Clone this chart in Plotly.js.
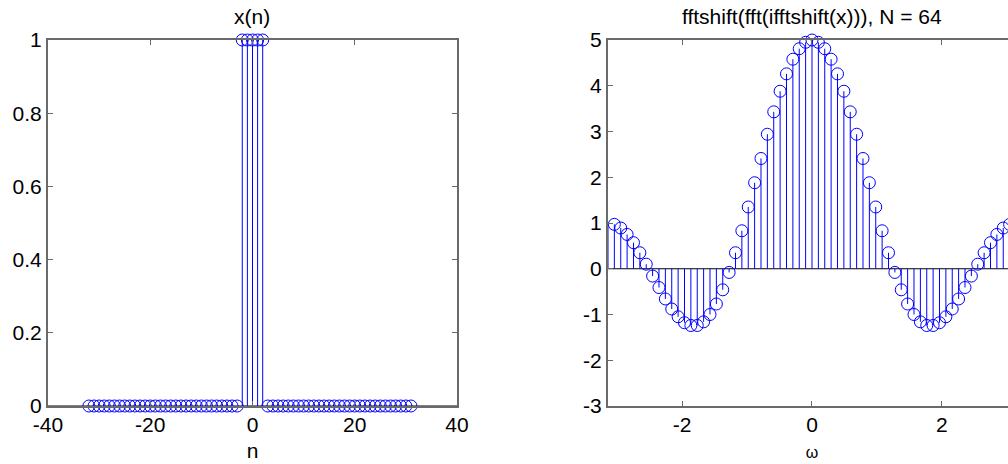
<!DOCTYPE html>
<html>
<head>
<meta charset="utf-8">
<script src="https://cdn.plot.ly/plotly-3.0.1.min.js"></script>
<style>
html,body{margin:0;padding:0;overflow:hidden;background:#fff;}
#chart{width:1024px;height:464px;}
</style>
</head>
<body>
<div id="chart"></div>
<script>
// Left: time-domain sequence x(n)
const nValues = [-32,-31,-30,-29,-28,-27,-26,-25,-24,-23,-22,-21,-20,-19,-18,-17,-16,-15,-14,-13,-12,-11,-10,-9,-8,-7,-6,-5,-4,-3,-2,-1,0,1,2,3,4,5,6,7,8,9,10,11,12,13,14,15,16,17,18,19,20,21,22,23,24,25,26,27,28,29,30,31];
const xValues = [0,0,0,0,0,0,0,0,0,0,0,0,0,0,0,0,0,0,0,0,0,0,0,0,0,0,0,0,0,0,1,1,1,1,1,0,0,0,0,0,0,0,0,0,0,0,0,0,0,0,0,0,0,0,0,0,0,0,0,0,0,0,0,0];

// Right: spectrum samples
const omegaValues = [-3.1416,-3.0434,-2.9452,-2.8471,-2.7489,-2.6507,-2.5525,-2.4544,-2.3562,-2.2580,-2.1598,-2.0617,-1.9635,-1.8653,-1.7671,-1.6690,-1.5708,-1.4726,-1.3744,-1.2763,-1.1781,-1.0799,-0.9817,-0.8836,-0.7854,-0.6872,-0.5890,-0.4909,-0.3927,-0.2945,-0.1963,-0.0982,0,0.0982,0.1963,0.2945,0.3927,0.4909,0.5890,0.6872,0.7854,0.8836,0.9817,1.0799,1.1781,1.2763,1.3744,1.4726,1.5708,1.6690,1.7671,1.8653,1.9635,2.0617,2.1598,2.2580,2.3562,2.4544,2.5525,2.6507,2.7489,2.8471,2.9452,3.0434];
const spectrumValues = [1.00,0.97,0.89,0.75,0.57,0.35,0.10,-0.16,-0.41,-0.66,-0.88,-1.05,-1.18,-1.24,-1.24,-1.16,-1.00,-0.77,-0.46,-0.08,0.35,0.83,1.35,1.88,2.41,2.94,3.43,3.88,4.26,4.58,4.81,4.95,5.00,4.95,4.81,4.58,4.26,3.88,3.43,2.94,2.41,1.88,1.35,0.83,0.35,-0.08,-0.46,-0.77,-1.00,-1.16,-1.24,-1.24,-1.18,-1.05,-0.88,-0.66,-0.41,-0.16,0.10,0.35,0.57,0.75,0.89,0.97];

// Tick values and labels
const leftXTicks = [-40, -20, 0, 20, 40];
const leftXTickText = ['-40', '-20', '0', '20', '40'];
const leftYTicks = [0, 0.2, 0.4, 0.6, 0.8, 1];
const leftYTickText = ['0', '0.2', '0.4', '0.6', '0.8', '1'];
const rightXTicks = [-2, 0, 2];
const rightXTickText = ['-2', '0', '2'];
const rightYTicks = [-3, -2, -1, 0, 1, 2, 3, 4, 5];
const rightYTickText = ['-3', '-2', '-1', '0', '1', '2', '3', '4', '5'];

const leftTitle = 'x(n)';
const rightTitle = 'fftshift(fft(ifftshift(x))), N = 64';
const leftXLabel = 'n';
const rightXLabel = '\u03c9';

const BLUE = '#0000ff';
const FONT = 'Liberation Sans, Arial, sans-serif';
const FS = 21;

function stemLines(xs, ys) {
  const sx = [], sy = [];
  for (let i = 0; i < xs.length; i++) {
    sx.push(xs[i], xs[i], null);
    sy.push(0, ys[i], null);
  }
  return {sx, sy};
}

const s1 = stemLines(nValues, xValues);
const s2 = stemLines(omegaValues, spectrumValues);

const markerStyle = {symbol: 'circle-open', size: 12, color: BLUE, line: {width: 1, color: BLUE}};

const traces = [
  {x: s1.sx, y: s1.sy, xaxis: 'x', yaxis: 'y', mode: 'lines', line: {color: BLUE, width: 1}, hoverinfo: 'skip', cliponaxis: false},
  {x: nValues, y: xValues, xaxis: 'x', yaxis: 'y', mode: 'markers', cliponaxis: false, marker: markerStyle},
  {x: s2.sx, y: s2.sy, xaxis: 'x2', yaxis: 'y2', mode: 'lines', line: {color: BLUE, width: 1}, hoverinfo: 'skip', cliponaxis: false},
  {x: omegaValues, y: spectrumValues, xaxis: 'x2', yaxis: 'y2', mode: 'markers', cliponaxis: false, marker: markerStyle}
];

const axisCommon = {
  showline: true, linecolor: '#6a6a6a', linewidth: 2, mirror: 'ticks',
  ticks: 'inside', ticklen: 5, tickcolor: '#6a6a6a', tickwidth: 1,
  showgrid: false, zeroline: false,
  tickfont: {family: FONT, size: FS, color: '#000'}
};

const layout = {
  width: 1024, height: 464,
  margin: {l: 48, r: 8, t: 40, b: 58},
  paper_bgcolor: '#fff', plot_bgcolor: '#fff',
  showlegend: false,
  font: {family: FONT, size: FS, color: '#000'},
  xaxis: Object.assign({}, axisCommon, {
    domain: [0, 0.4225], anchor: 'y', range: [-40, 40],
    tickvals: leftXTicks, ticktext: leftXTickText,
    ticklabelstandoff: -1,
    title: {text: leftXLabel, font: {family: FONT, size: FS}, standoff: 8}
  }),
  yaxis: Object.assign({}, axisCommon, {
    domain: [0, 1], anchor: 'x', range: [0, 1],
    tickvals: leftYTicks, ticktext: leftYTickText, ticklabelstandoff: 0
  }),
  xaxis2: Object.assign({}, axisCommon, {
    domain: [0.5785, 1], anchor: 'y2', range: [-Math.PI, Math.PI],
    tickvals: rightXTicks, ticktext: rightXTickText,
    ticklabelstandoff: -1,
    title: {text: rightXLabel, font: {family: FONT, size: 16}, standoff: 12}
  }),
  yaxis2: Object.assign({}, axisCommon, {
    domain: [0, 1], anchor: 'x2', range: [-3, 5],
    tickvals: rightYTicks, ticktext: rightYTickText, ticklabelstandoff: 0
  }),
  shapes: [
    {type: 'line', xref: 'x domain', yref: 'y', x0: 0, x1: 1, y0: 0, y1: 0, line: {color: '#000', width: 1}, layer: 'below'},
    {type: 'line', xref: 'x2 domain', yref: 'y2', x0: 0, x1: 1, y0: 0, y1: 0, line: {color: '#000', width: 1}, layer: 'below'}
  ],
  annotations: [
    {text: leftTitle, xref: 'x domain', yref: 'paper', x: 0.5, y: 1, xanchor: 'center', yanchor: 'middle', yshift: 24, showarrow: false, font: {family: FONT, size: FS}},
    {text: rightTitle, xref: 'x2 domain', yref: 'paper', x: 0.5, y: 1, xanchor: 'center', yanchor: 'middle', yshift: 24, showarrow: false, font: {family: FONT, size: FS}}
  ]
};

Plotly.newPlot('chart', traces, layout, {staticPlot: true, displayModeBar: false});
</script>
</body>
</html>
